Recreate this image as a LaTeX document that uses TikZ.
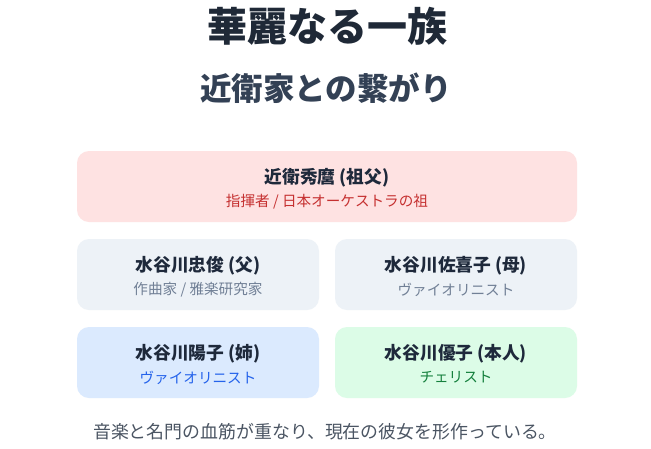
\documentclass[tikz,border=0pt]{standalone}
\usepackage{fontspec}
\setmainfont{Noto Sans CJK JP}
\definecolor{titlec}{HTML}{1F2937}
\definecolor{subtc}{HTML}{334155}
\definecolor{namec}{HTML}{1E293B}
\definecolor{redbg}{HTML}{FEE2E2}
\definecolor{redtx}{HTML}{C53030}
\definecolor{graybg}{HTML}{EDF2F7}
\definecolor{graytx}{HTML}{718096}
\definecolor{bluebg}{HTML}{DBEAFE}
\definecolor{bluetx}{HTML}{2563EB}
\definecolor{greenbg}{HTML}{DCFCE7}
\definecolor{greentx}{HTML}{15803D}
\definecolor{captc}{HTML}{4B5563}
\tikzset{
  card/.style={rounded corners=12pt, draw=none},
  nametext/.style={font=\fontsize{17.7}{20}\selectfont\bfseries, text=namec, inner sep=0pt},
  roletext/.style={font=\fontsize{14.6}{17}\selectfont, inner sep=0pt},
}
\begin{document}
\begin{tikzpicture}[x=1pt,y=-1pt]
\useasboundingbox[fill=white] (0,0) rectangle (651,448);
\node[font=\fontsize{40}{44}\selectfont\bfseries, text=titlec, inner sep=0pt] (title) at (327,26) {華麗なる一族};
\node[font=\fontsize{31.5}{35}\selectfont\bfseries, text=subtc, inner sep=0pt] (subtitle) at (326,88) {近衛家との繋がり};
% cards
\path[card, fill=redbg] (77,151) rectangle (577,222);
\node[nametext] (gf) at (327,178) {近衛秀麿 (祖父)};
\node[roletext, text=redtx] (gfr) at (327,201.5) {指揮者 / 日本オーケストラの祖};
\path[card, fill=graybg] (77,239) rectangle (319,310);
\node[nametext] (fa) at (198,266) {水谷川忠俊 (父)};
\node[roletext, text=graytx] (far) at (198,289.5) {作曲家 / 雅楽研究家};
\path[card, fill=graybg] (335,239) rectangle (577,310);
\node[nametext] (mo) at (456,266) {水谷川佐喜子 (母)};
\node[roletext, text=graytx] (mor) at (456,289.5) {ヴァイオリニスト};
\path[card, fill=bluebg] (77,327) rectangle (319,398);
\node[nametext] (si) at (198,354) {水谷川陽子 (姉)};
\node[roletext, text=bluetx] (sir) at (198,377.5) {ヴァイオリニスト};
\path[card, fill=greenbg] (335,327) rectangle (577,398);
\node[nametext] (me) at (456,354) {水谷川優子 (本人)};
\node[roletext, text=greentx] (mer) at (456,377.5) {チェリスト};
\node[font=\fontsize{17.9}{21}\selectfont, text=captc, inner sep=0pt] (cap) at (325,432) {音楽と名門の血筋が重なり、現在の彼女を形作っている。};
\end{tikzpicture}
\end{document}
